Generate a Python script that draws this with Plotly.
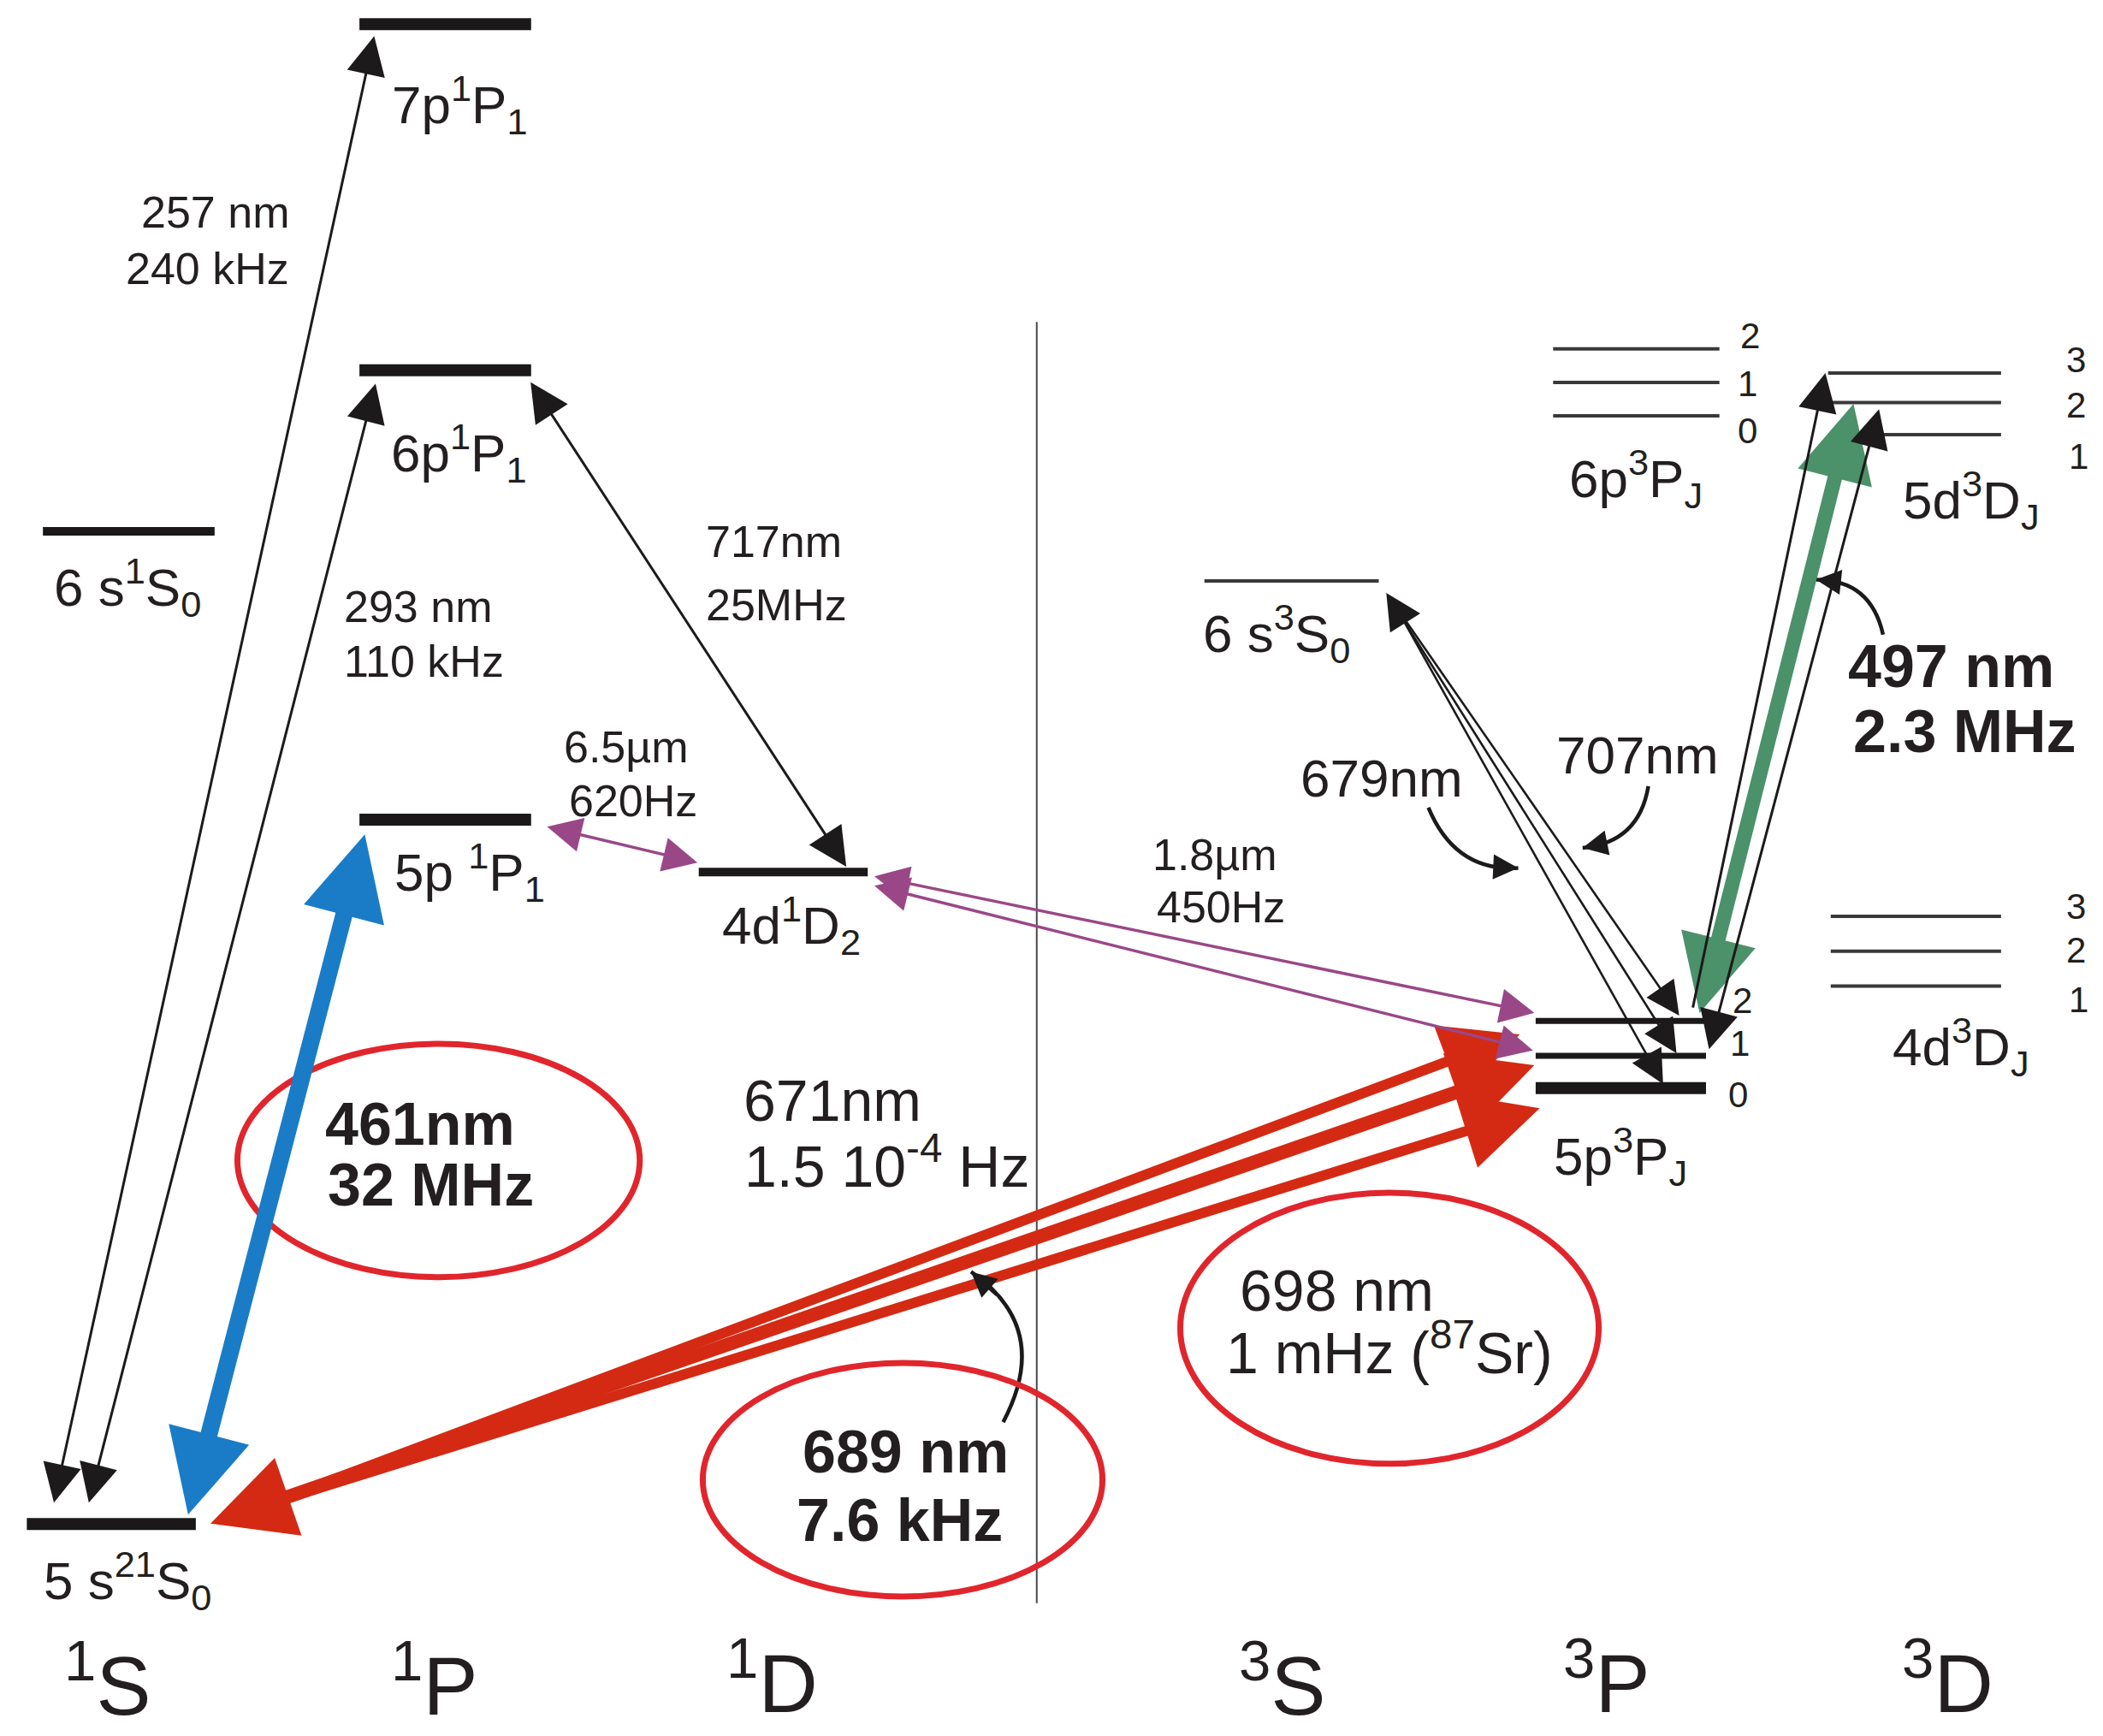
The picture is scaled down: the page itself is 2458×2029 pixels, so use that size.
import plotly.graph_objects as go

# ------------------------------------------------------------------ data
# diagram units: 1568 x 1294 canvas, y measured downward (higher energy = smaller y)
level_ids = ["5s2 1S0", "6s 1S0", "5p 1P1", "6p 1P1", "7p 1P1", "4d 1D2", "6s 3S1",
             "6p 3P2", "6p 3P1", "6p 3P0", "5d 3D3", "5d 3D2", "5d 3D1",
             "4d 3D3", "4d 3D2", "4d 3D1", "5p 3P2", "5p 3P1", "5p 3P0"]
level_x0 = [20, 32, 268, 268, 268, 521, 898, 1158, 1158, 1158, 1363, 1366, 1402,
            1365, 1365, 1365, 1145, 1145, 1145]
level_x1 = [146, 160, 396, 396, 396, 647, 1028, 1282, 1282, 1282, 1492, 1492, 1492,
            1492, 1492, 1492, 1282, 1272, 1272]
level_y = [1136, 396, 611, 276, 18, 650, 433, 260, 285, 310, 278, 300, 324,
           683, 709, 735, 761, 787, 811]

# transitions: tail point -> head point
trans_ids = ["257nm", "293nm", "717nm", "6.5um", "1.8um_a", "1.8um_b",
             "461nm", "689nm", "671nm", "698nm", "497nm",
             "5d_left", "5d_right", "fan_J2", "fan_J1", "fan_J0"]
trans_x_from = [40, 66, 395, 407, 651, 651, 140, 156, 200, 200, 1267, 1262, 1274, 1040, 1033, 1040]
trans_y_from = [1121, 1121, 284, 616, 653, 660, 1130, 1136, 1121, 1121, 756, 752, 783, 451, 441, 451]
trans_x_to = [279, 280, 631, 520, 1144, 1143, 272, 1144, 1133, 1148, 1382, 1361, 1401, 1252, 1250, 1240]
trans_y_to = [27, 286, 646, 643, 755, 783, 622, 794, 771, 826, 301, 278, 305, 757, 785, 808]

# curved pointer arrows (quadratic: start, control, end)
curve_ids = ["679", "707", "497", "689"]
curve_x0 = [1065, 1229, 1404, 748]
curve_y0 = [602, 586, 473, 1060]
curve_cx = [1085, 1222, 1395, 785]
curve_cy = [650, 628, 432, 990]
curve_x1 = [1132, 1180, 1354, 724]
curve_y1 = [647, 632, 432, 948]

# highlight ellipses
ell_cx = [327, 673, 1036]
ell_cy = [865, 1103, 990]
ell_rx = [150, 149, 156]
ell_ry = [87, 87, 101]

# text labels
trans_text_small = ["257 nm", "240 kHz", "293 nm", "110 kHz", "717nm", "25MHz",
                    "6.5µm", "620Hz", "1.8µm", "450Hz"]
trans_text_mid = ["679nm", "707nm"]
trans_text_large = ["671nm", "1.5 10<sup>-4</sup> Hz", "698 nm", "1 mHz (<sup>87</sup>Sr)"]
trans_text_bold = ["461nm", "32 MHz", "689 nm", "7.6 kHz"]
trans_text_bold_l = ["497 nm", "2.3 MHz"]
level_text = ["7p<sup>1</sup>P<sub>1</sub>", "6p<sup>1</sup>P<sub>1</sub>", "5p <sup>1</sup>P<sub>1</sub>",
              "6 s<sup>1</sup>S<sub>0</sub>", "5 s<sup>21</sup>S<sub>0</sub>", "4d<sup>1</sup>D<sub>2</sub>",
              "6 s<sup>3</sup>S<sub>0</sub>", "6p<sup>3</sup>P<sub>J</sub>", "5d<sup>3</sup>D<sub>J</sub>",
              "5p<sup>3</sup>P<sub>J</sub>", "4d<sup>3</sup>D<sub>J</sub>"]
j_text = ["2", "1", "0", "3", "2", "1", "3", "2", "1", "2", "1", "0"]
term_text = ["<sup>1</sup>S", "<sup>1</sup>P", "<sup>1</sup>D", "<sup>3</sup>S", "<sup>3</sup>P", "<sup>3</sup>D"]

# ------------------------------------------------------------------ layout / style
W, H = 2458, 2029
XR, YR = 1568, 1294
FONT = "Liberation Sans, Arial, sans-serif"
INK = "#231f20"
BLACK = "#1c1a1a"
PURPLE = "#9a4787"
BLUE = "#1a7cc7"
RED = "#d42a14"
GREEN = "#4b9169"
ELL = "#e0262c"

level_class = {
    "5s2 1S0": "bold", "5p 1P1": "bold", "6p 1P1": "bold", "7p 1P1": "bold", "5p 3P0": "bold",
    "6s 1S0": "medium", "4d 1D2": "medium",
    "5p 3P2": "fine", "5p 3P1": "fine",
}
class_width = {"bold": 14, "medium": 10, "fine": 7, "thin": 4}
class_color = {"bold": "#1a1818", "medium": "#1a1818", "fine": "#1a1818", "thin": "#3a3838"}

# arrow styles: color, width, end head size, start head size (None = no head)
arrow_style = {
    "257nm": (BLACK, 3, 3.0, 3.0),
    "293nm": (BLACK, 3, 3.0, 3.0),
    "717nm": (BLACK, 3, 3.0, 3.0),
    "6.5um": (PURPLE, 3.5, 2.3, 2.3),
    "1.8um_a": (PURPLE, 3.5, 2.3, 2.3),
    "1.8um_b": (PURPLE, 3.5, 2.3, 2.3),
    "461nm": (BLUE, 20, 0.97, 0.97),
    "689nm": (RED, 16, 1.2, 1.2),
    "671nm": (RED, 12, 1.5, None),
    "698nm": (RED, 12, 1.5, None),
    "497nm": (GREEN, 17, 1.05, 1.05),
    "5d_left": (BLACK, 3, 3.0, None),
    "5d_right": (BLACK, 3, 3.0, 3.0),
    "fan_J2": (BLACK, 2.6, 3.0, None),
    "fan_J1": (BLACK, 2.6, 3.0, 3.2),
    "fan_J0": (BLACK, 2.6, 3.0, None),
}
draw_order = ["461nm", "671nm", "698nm", "689nm", "497nm",
              "257nm", "293nm", "717nm", "5d_left", "5d_right",
              "fan_J2", "fan_J1", "fan_J0", "6.5um", "1.8um_a", "1.8um_b"]

pos_small = [(217, 158, "right"), (217, 200, "right"), (255, 452, "left"), (255, 493, "left"),
             (577, 404, "center"), (579, 451, "center"), (467, 557, "center"), (472, 597, "center"),
             (906, 637, "center"), (910, 676, "center")]
pos_mid = [(1030, 580), (1221, 563)]
pos_large = [(621, 820), (661, 866), (997, 962), (1036, 1005)]
pos_bold = [(313, 838), (321, 883), (675, 1082), (671, 1133)]
pos_bold_l = [(1455, 497), (1465, 545)]
pos_level = [(343, 78), (342, 338), (350, 650), (95, 438), (95, 1178), (590, 690),
             (952, 472), (1220, 357), (1470, 373), (1208, 862), (1462, 780)]
pos_j = [(1305, 250), (1303, 286), (1303, 321), (1548, 268), (1548, 302), (1550, 340),
         (1548, 676), (1548, 708), (1550, 745), (1299, 746), (1297, 778), (1296, 816)]
pos_term = [(80, 1252), (324, 1252), (576, 1250), (956, 1252), (1198, 1250), (1452, 1250)]

fig = go.Figure()

# energy levels
for cls in ["thin", "fine", "medium", "bold"]:
    xs, ys = [], []
    for i, lid in enumerate(level_ids):
        if level_class.get(lid, "thin") == cls:
            xs += [level_x0[i], level_x1[i], None]
            ys += [level_y[i], level_y[i], None]
    fig.add_trace(go.Scatter(x=xs, y=ys, mode="lines",
                             line=dict(color=class_color[cls], width=class_width[cls]),
                             hoverinfo="skip", showlegend=False))

annotations = []

# transition arrows
for tid in draw_order:
    i = trans_ids.index(tid)
    color, width, hsize, ssize = arrow_style[tid]
    a = dict(x=trans_x_to[i], y=trans_y_to[i], ax=trans_x_from[i], ay=trans_y_from[i],
             xref="x", yref="y", axref="x", ayref="y", text="", showarrow=True,
             arrowcolor=color, arrowwidth=width, arrowhead=2, arrowsize=hsize)
    if ssize is not None:
        a.update(arrowside="end+start", startarrowhead=2, startarrowsize=ssize)
    annotations.append(a)

shapes = []
# separator between singlet and triplet manifolds
shapes.append(dict(type="line", xref="x", yref="y", x0=773, x1=773, y0=240, y1=1195,
                   line=dict(color="#4a4848", width=2)))

# curved pointers
for k in range(len(curve_ids)):
    p = "M {},{} Q {},{} {},{}".format(curve_x0[k], curve_y0[k], curve_cx[k], curve_cy[k],
                                       curve_x1[k], curve_y1[k])
    shapes.append(dict(type="path", path=p, xref="x", yref="y",
                       line=dict(color=BLACK, width=4.5)))
    t = 0.8
    tx = (1 - t) ** 2 * curve_x0[k] + 2 * t * (1 - t) * curve_cx[k] + t ** 2 * curve_x1[k]
    ty = (1 - t) ** 2 * curve_y0[k] + 2 * t * (1 - t) * curve_cy[k] + t ** 2 * curve_y1[k]
    annotations.append(dict(x=curve_x1[k], y=curve_y1[k], ax=tx, ay=ty,
                            xref="x", yref="y", axref="x", ayref="y", text="",
                            showarrow=True, arrowcolor=BLACK, arrowwidth=4.5,
                            arrowhead=2, arrowsize=1.3))

# ellipses
for k in range(len(ell_cx)):
    shapes.append(dict(type="circle", xref="x", yref="y",
                       x0=ell_cx[k] - ell_rx[k], x1=ell_cx[k] + ell_rx[k],
                       y0=ell_cy[k] - ell_ry[k], y1=ell_cy[k] + ell_ry[k],
                       line=dict(color=ELL, width=7)))


def add_text(texts, positions, size, bold=False, anchor=None):
    for j, txt in enumerate(texts):
        p = positions[j]
        xa = p[2] if len(p) > 2 else (anchor or "center")
        annotations.append(dict(x=p[0], y=p[1], xref="x", yref="y", showarrow=False,
                                text="<b>" + txt + "</b>" if bold else txt,
                                xanchor=xa, yanchor="middle",
                                font=dict(family=FONT, size=size, color=INK)))


add_text(trans_text_small, pos_small, 52)
add_text(trans_text_mid, pos_mid, 62)
add_text(trans_text_large, pos_large, 68)
add_text(trans_text_bold, pos_bold, 70, bold=True)
add_text(trans_text_bold_l, pos_bold_l, 70, bold=True)
add_text(level_text, pos_level, 62)
add_text(j_text, pos_j, 42)
add_text(term_text, pos_term, 96)

fig.update_layout(
    width=W, height=H,
    margin=dict(l=0, r=0, t=0, b=0),
    paper_bgcolor="white", plot_bgcolor="white",
    xaxis=dict(range=[0, XR], visible=False, fixedrange=True),
    yaxis=dict(range=[YR, 0], visible=False, fixedrange=True),
    shapes=shapes, annotations=annotations, showlegend=False,
)

fig.write_html("out.html",
               config={"displayModeBar": False, "staticPlot": True},
               post_script="document.body.style.margin='0';document.body.style.padding='0';"
                           "document.body.style.overflow='hidden';")
